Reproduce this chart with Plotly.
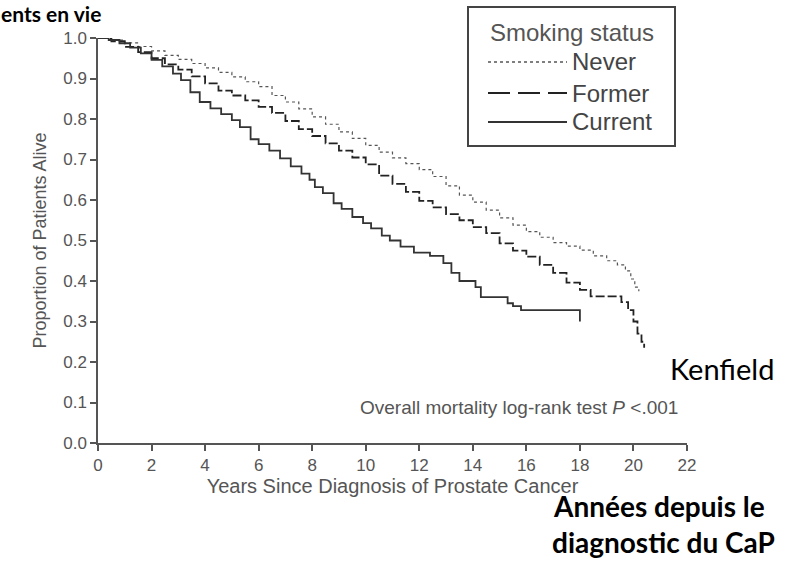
import plotly.graph_objects as go

# ---- data ----
never_t = [0, 0.5, 1.0, 1.5, 2.0, 2.5, 3.0, 3.5, 4.0, 4.5, 5.0, 5.5, 6.0, 6.5, 7.0, 7.5,
           8.0, 8.5, 9.0, 9.5, 10.0, 10.5, 11.0, 11.5, 12.0, 12.5, 13.0, 13.5, 14.0, 14.5,
           15.0, 15.5, 16.0, 16.5, 17.0, 17.5, 18.0, 18.5, 19.0, 19.4, 19.7, 19.9, 20.05, 20.2]
never_s = [1.0, 0.995, 0.988, 0.979, 0.968, 0.957, 0.947, 0.937, 0.926, 0.915,
           0.904, 0.892, 0.880, 0.858, 0.842, 0.825, 0.805, 0.787, 0.768, 0.752,
           0.735, 0.718, 0.704, 0.690, 0.675, 0.658, 0.635, 0.612, 0.595, 0.575,
           0.556, 0.538, 0.522, 0.508, 0.495, 0.486, 0.476, 0.462, 0.450,
           0.440, 0.425, 0.405, 0.385, 0.375]

former_t = [0, 0.5, 1.0, 1.5, 2.0, 2.5, 3.0, 3.5, 4.0, 4.5, 5.0, 5.5, 6.0, 6.5, 7.0, 7.5,
            8.0, 8.5, 9.0, 9.5, 10.0, 10.5, 11.0, 11.5, 12.0, 12.5, 13.0, 13.5, 14.0, 14.5,
            15.0, 15.5, 16.0, 16.5, 17.0, 17.5, 18.0, 18.4, 19.55, 19.8, 20.0, 20.15, 20.3, 20.4]
former_s = [1.0, 0.992, 0.978, 0.965, 0.950, 0.935, 0.922, 0.905, 0.888, 0.870,
            0.858, 0.846, 0.830, 0.815, 0.795, 0.775, 0.758, 0.740, 0.722, 0.705,
            0.688, 0.660, 0.640, 0.620, 0.598, 0.582, 0.565, 0.550, 0.533, 0.518,
            0.493, 0.475, 0.460, 0.440, 0.420, 0.396, 0.378,
            0.362, 0.348, 0.328, 0.300, 0.270, 0.250, 0.235]

current_t = [0, 0.4, 0.8, 1.2, 1.6, 2.0, 2.4, 2.8, 3.1, 3.45, 3.8, 4.2, 4.6, 5.0, 5.3, 5.7,
             6.0, 6.4, 6.8, 7.2, 7.6, 7.9, 8.1, 8.4, 8.8, 9.1, 9.5, 9.9, 10.2, 10.6, 10.9,
             11.3, 11.8, 12.4, 12.9, 13.2, 13.5, 14.1, 14.3, 15.3, 15.5, 15.8, 18.0]
current_s = [1.0, 0.995, 0.987, 0.976, 0.962, 0.946, 0.930, 0.912, 0.896, 0.866,
             0.842, 0.826, 0.812, 0.797, 0.780, 0.750, 0.738, 0.722, 0.703, 0.683,
             0.665, 0.650, 0.632, 0.617, 0.592, 0.578, 0.558, 0.543, 0.530, 0.512,
             0.500, 0.485, 0.470, 0.462, 0.444, 0.420, 0.400, 0.385, 0.360, 0.345,
             0.338, 0.328, 0.300]

series_names = ["Never", "Former", "Current"]
legend_title = "Smoking status"
x_ticks = [0, 2, 4, 6, 8, 10, 12, 14, 16, 18, 20, 22]
y_ticks = [0.0, 0.1, 0.2, 0.3, 0.4, 0.5, 0.6, 0.7, 0.8, 0.9, 1.0]

GRAY = "#555555"
BASE_FONT = "Liberation Sans, Arial, sans-serif"
BIG_FONT = "Lato, Open Sans, sans-serif"

# plot-area geometry in pixels (used only to place annotations / legend)
L, R, T, B = 98, 687, 38, 443
PW, PH = R - L, B - T


def px(xp):
    return (xp - L) / PW


def py(yp):
    return (B - yp) / PH


styles = [
    dict(dash="dot", width=1.2, color="#555555"),
    dict(dash="9px,3px", width=1.8, color="#222222"),
    dict(dash="solid", width=1.8, color="#333333"),
]
legend_styles = [
    dict(dash="dot", width=1.6, color="#555555"),
    dict(dash="22px,8px", width=2, color="#222222"),
    dict(dash="solid", width=2, color="#333333"),
]

fig = go.Figure()
for name, tt, ss, st in zip(series_names, [never_t, former_t, current_t],
                            [never_s, former_s, current_s], styles):
    fig.add_trace(go.Scatter(x=tt, y=ss, mode="lines", name=name,
                             line=dict(shape="hv", **st), showlegend=False))

fig.update_layout(
    width=796, height=561,
    margin=dict(l=L, r=796 - R, t=T, b=561 - B, pad=0),
    paper_bgcolor="white", plot_bgcolor="white",
    font=dict(family=BASE_FONT, color=GRAY, size=16),
    showlegend=False,
    xaxis=dict(range=[0, 22], tickvals=x_ticks, showgrid=False, zeroline=False,
               showline=True, linecolor=GRAY, linewidth=1.5,
               ticks="outside", ticklen=6, tickcolor=GRAY, tickwidth=1.5,
               tickfont=dict(size=17, color=GRAY),
               title=dict(text="Years Since Diagnosis of Prostate Cancer",
                          font=dict(size=20, color=GRAY), standoff=0)),
    yaxis=dict(range=[0, 1], tickvals=y_ticks, tickformat=".1f", showgrid=False,
               zeroline=False, showline=True, linecolor=GRAY, linewidth=1.5,
               ticks="outside", ticklen=6, tickcolor=GRAY, tickwidth=1.5,
               tickfont=dict(size=17, color=GRAY),
               title=dict(text="Proportion of Patients Alive",
                          font=dict(size=18, color=GRAY), standoff=12)),
)

# ---- legend (drawn as frame + samples + labels) ----
fig.add_shape(type="rect", xref="paper", yref="paper",
              x0=px(468), x1=px(675), y0=py(146), y1=py(7),
              line=dict(color="#444444", width=2), fillcolor="white", layer="above")
fig.add_annotation(text=legend_title, xref="paper", yref="paper",
                   x=px(488), y=py(33), xanchor="left", yanchor="middle", showarrow=False,
                   font=dict(size=24, color=GRAY, family=BASE_FONT))
for i, (name, st) in enumerate(zip(series_names, legend_styles)):
    yrow = [62, 93, 122][i]
    fig.add_shape(type="line", xref="paper", yref="paper",
                  x0=px(488), x1=px(567), y0=py(yrow), y1=py(yrow),
                  line=st, layer="above")
    fig.add_annotation(text=name, xref="paper", yref="paper",
                       x=px(570), y=py(yrow), xanchor="left", yanchor="middle",
                       showarrow=False, font=dict(size=24, color="#444444", family=BASE_FONT))

fig.add_annotation(text="Overall mortality log-rank test <i>P</i> <.001",
                   xref="paper", yref="paper", x=px(680), y=py(407),
                   xanchor="right", yanchor="middle", showarrow=False,
                   font=dict(size=19, color=GRAY, family=BASE_FONT))

fig.add_annotation(text="Kenfield", xref="paper", yref="paper",
                   x=px(668), y=py(368), xanchor="left", yanchor="middle",
                   showarrow=False, font=dict(size=29, color="black", family=BIG_FONT))

fig.add_annotation(text="<b>Années depuis le</b>", xref="paper", yref="paper",
                   x=px(767), y=py(506), xanchor="right", yanchor="middle",
                   showarrow=False, font=dict(size=28, color="black", family=BIG_FONT))
fig.add_annotation(text="<b>diagnostic du CaP</b>", xref="paper", yref="paper",
                   x=px(777), y=py(542), xanchor="right", yanchor="middle",
                   showarrow=False, font=dict(size=28, color="black", family=BIG_FONT))

fig.add_annotation(text="<b>ents en vie</b>", xref="paper", yref="paper",
                   x=px(0), y=py(0), xanchor="left", yanchor="top", borderpad=0,
                   showarrow=False, font=dict(size=21, color="black", family=BIG_FONT))

fig.write_html("out.html")
